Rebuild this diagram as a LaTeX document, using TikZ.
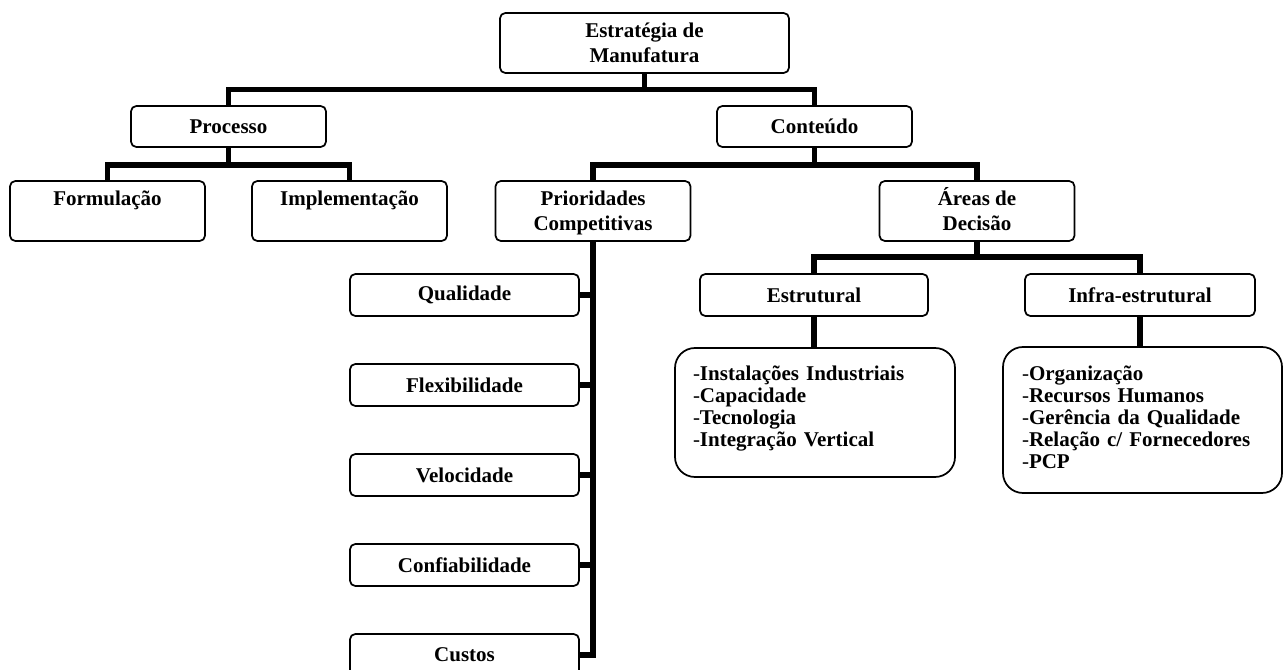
\documentclass[tikz,border=0pt]{standalone}
\usepackage{fontspec}
\setmainfont{Liberation Serif}
\begin{document}
\begin{tikzpicture}[x=0.75pt,y=-0.75pt]
\tikzset{
 box/.style={draw=black, line width=1.3pt, rounded corners=4pt, align=center, inner sep=0pt, fill=white, font=\bfseries\fontsize{15.75pt}{18.75pt}\selectfont},
 sbox/.style={box, minimum width=146.25pt, minimum height=30.75pt},
 tbox/.style={box, minimum width=146.25pt, minimum height=45pt, text depth=0pt},
 qbox/.style={box, minimum width=171.75pt, minimum height=31.5pt},
 lbox/.style={box, rounded corners=15pt, align=left, font=\bfseries\fontsize{15.75pt}{16.4pt}\selectfont},
 conn/.style={line width=4pt, line join=miter}
}
\clip (0,0) rectangle (1283,670);
\fill[white] (0,0) rectangle (1283,670);

\node[box, minimum width=216.75pt, minimum height=45pt] (top) at (644.5,43) {Estratégia de\\Manufatura};
\node[sbox] (proc) at (228.5,126.5) {Processo};
\node[sbox] (cont) at (814.5,126.5) {Conteúdo};
\node[tbox] (form) at (107.5,211) {Formulação\\\mbox{}};
\node[tbox] (impl) at (349.5,211) {Implementação\\\mbox{}};
\node[tbox] (prio) at (593,211) {Prioridades\\Competitivas};
\node[tbox] (areas) at (977,211) {\smash{Á}reas de\\Decisão};
\node[qbox, minimum width=171pt] (estr) at (814,295) {Estrutural};
\node[qbox, minimum width=172.5pt] (infra) at (1140,295) {Infra-estrutural};
\node[qbox] (q1) at (464.5,295) {Qualidade};
\node[qbox] (q2) at (464.5,385) {Flexibilidade};
\node[qbox] (q3) at (464.5,475) {Velocidade};
\node[qbox] (q4) at (464.5,565) {Confiabilidade};
\node[qbox] (q5) at (464.5,655) {Custos};
\node[lbox, text width=183pt, inner xsep=13.5pt, minimum height=96.75pt, text height=11pt, text depth=59pt] (l1) at (815,412.5)
 {{\mdseries -}Instalações Industriais\\{\mdseries -}Capacidade\\{\mdseries -}Tecnologia\\{\mdseries -}Integração Vertical};
\node[lbox, text width=180.75pt, inner xsep=14.25pt, minimum height=109.5pt, text height=11pt, text depth=70pt] (l2) at (1142.5,420)
 {{\mdseries -}Organização\\{\mdseries -}Recursos Humanos\\{\mdseries -}Gerência da Qualidade\\{\mdseries -}Relação c/ Fornecedores\\{\mdseries -}PCP};

\coordinate (j1) at (644.5,89.5);
\coordinate (j2) at (228.5,165);
\coordinate (j3) at (814.5,165);
\coordinate (j4) at (977,257);
\draw[conn] (top.south) -- (j1);
\draw[conn] (proc.north) |- (j1) -| (cont.north);
\draw[conn] (proc.south) -- (j2);
\draw[conn] (form.north) |- (j2) -| (impl.north);
\draw[conn] (cont.south) -- (j3);
\draw[conn] (prio.north) |- (j3) -| (areas.north);
\draw[conn] (areas.south) -- (j4);
\draw[conn] (estr.north) |- (j4) -| (infra.north);
\draw[conn] (estr.south) -- (estr.south |- l1.north);
\draw[conn] (infra.south) -- (infra.south |- l2.north);
\draw[conn] (prio.south) |- (q5.east);
\foreach \q in {q1,q2,q3,q4} \draw[conn] (\q.east) -- (\q.east -| prio.south);
\end{tikzpicture}
\end{document}
